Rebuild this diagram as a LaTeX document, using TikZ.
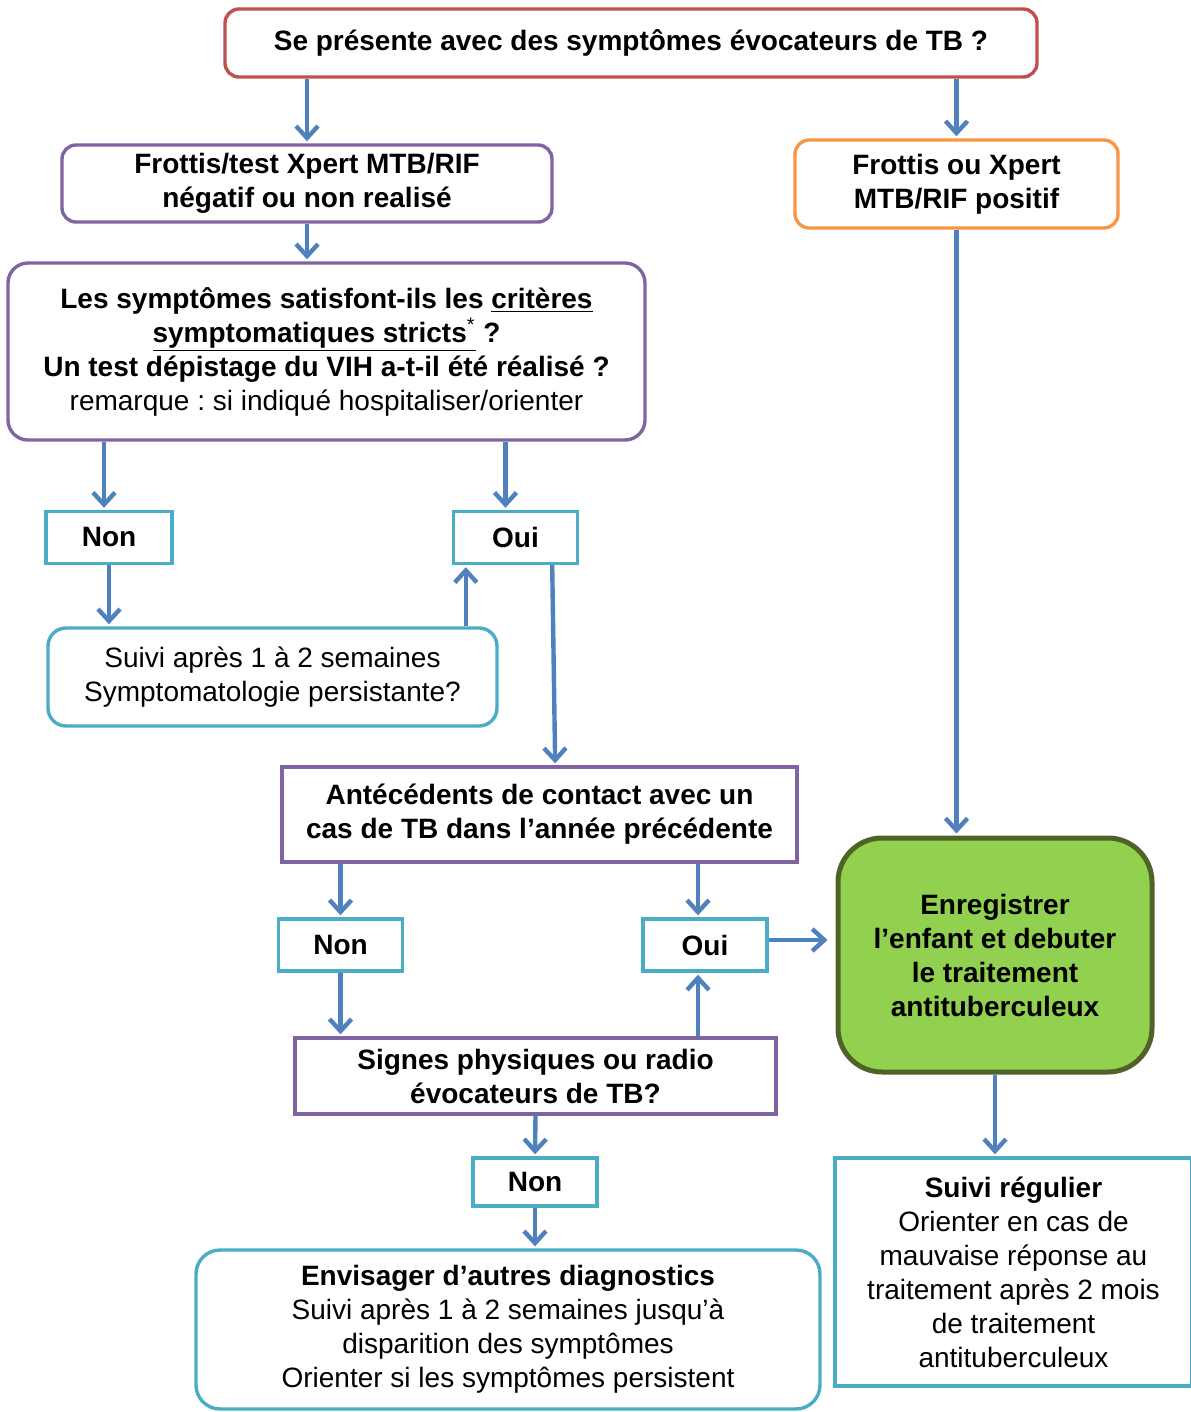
\documentclass[tikz,border=0pt]{standalone}
\usepackage{fontspec}
\setmainfont{Liberation Sans}
\frenchspacing
\usetikzlibrary{positioning,calc,arrows.meta}

\definecolor{rougeTB}{HTML}{C0504D}
\definecolor{violetTB}{HTML}{8064A2}
\definecolor{orangeTB}{HTML}{F79646}
\definecolor{turquoiseTB}{HTML}{4BACC6}
\definecolor{bleuTB}{HTML}{4F81BD}
\definecolor{vertTB}{HTML}{92D050}
\definecolor{vertfonceTB}{HTML}{4F6228}

\begin{document}
\begin{tikzpicture}[x=0.5pt, y=-0.5pt,
	boite/.style={draw, line width=1.7pt, align=center, inner sep=0pt, fill=white,
		font=\fontsize{14}{17}\selectfont},
	arrondi/.style={boite, rounded corners=7pt},
	gras/.style={font=\fontsize{14}{17}\selectfont\bfseries},
	reponse/.style={boite, gras, draw=turquoiseTB, minimum width=62pt, minimum height=26pt},
	fleche/.style={draw=bleuTB, line width=2.2pt, shorten >=1pt,
		-{Straight Barb[length=6pt, width=11pt]}},
	]
	
	% page
	\useasboundingbox (0,0) rectangle (1190,1412);
	
	% boxes
	\node[arrondi, gras, draw=rougeTB, minimum width=406pt, minimum height=34pt]
		(debut) at (631,43) {Se présente avec des symptômes évocateurs de TB ?};
	\node[arrondi, gras, draw=violetTB, minimum width=245pt, minimum height=38.5pt]
		(negatif) at (307,183.5) {Frottis/test Xpert MTB/RIF\\négatif ou non realisé};
	\node[arrondi, gras, draw=orangeTB, minimum width=161.5pt, minimum height=44pt]
		(positif) at (956.5,184) {Frottis ou Xpert\\MTB/RIF positif};
	\node[arrondi, gras, draw=violetTB, rounded corners=10pt, minimum width=318.5pt, minimum height=88.5pt]
		(criteres) at (326.5,351.5) {Les symptômes satisfont-ils les \underline{critères}\\
		\underline{symptomatiques stricts\textsuperscript{\mdseries*}} ?\\
		Un test dépistage du VIH a-t-il été réalisé ?\\
		{\mdseries remarque : si indiqué hospitaliser/orienter}};
	
	\node[reponse, minimum width=63pt] (non1) at (109,537.5) {Non};
	\node[reponse] (oui1) at (515.5,537.5) {Oui};
	\node[arrondi, draw=turquoiseTB, rounded corners=9pt, minimum width=224.5pt, minimum height=49pt]
		(suivi) at (272.5,677) {Suivi après 1 à 2 semaines\\Symptomatologie persistante?};
	
	\node[boite, gras, draw=violetTB, minimum width=257.5pt, minimum height=47.5pt]
		(contact) at (539.5,814.5) {Antécédents de contact avec un\\cas de TB dans l’année précédente};
	\node[reponse] (non2) at (340.5,945) {Non};
	\node[reponse] (oui2) at (705,945) {Oui};
	\node[boite, gras, draw=violetTB, minimum width=240.5pt, minimum height=38pt]
		(signes) at (535.5,1076) {Signes physiques ou radio\\évocateurs de TB?};
	\node[reponse, minimum height=24pt] (non3) at (535,1182) {Non};
	\node[arrondi, draw=turquoiseTB, rounded corners=12pt, minimum width=312pt, minimum height=79.5pt]
		(autres) at (508,1329.5) {\textbf{Envisager d’autres diagnostics}\\
		Suivi après 1 à 2 semaines jusqu’à\\disparition des symptômes\\
		Orienter si les symptômes persistent};
	
	\node[boite, gras, draw=vertfonceTB, fill=vertTB, line width=2.5pt, rounded corners=22pt,
		minimum width=157pt, minimum height=117pt]
		(traitement) at (995,955) {Enregistrer\\l’enfant et debuter\\le traitement\\antituberculeux};
	\node[boite, draw=turquoiseTB, minimum width=178.5pt, minimum height=114pt]
		(regulier) at (1013.5,1272) {\textbf{Suivi régulier}\\Orienter en cas de\\mauvaise réponse au\\
		traitement après 2 mois\\de traitement\\antituberculeux};
	
	% arrows
	\draw[fleche] (debut.south -| negatif) -- (negatif);
	\draw[fleche] (debut.south -| positif) -- (positif);
	\draw[fleche] (negatif.south) -- (negatif.south |- criteres.north);
	\draw[fleche] ([xshift=-2.5pt]non1.north |- criteres.south) -- ([xshift=-2.5pt]non1.north);
	\draw[fleche] ([xshift=-5pt]oui1.north |- criteres.south) -- ([xshift=-5pt]oui1.north);
	\draw[fleche] (non1.south) -- (non1.south |- suivi.north);
	\draw[fleche] ([xshift=7pt]oui1.south west |- suivi.north) -- ([xshift=7pt]oui1.south west);
	\draw[fleche] ([xshift=-13.5pt]oui1.south east) -- ([xshift=-12pt]oui1.south east |- contact.north);
	\draw[fleche] (positif.south) -- (positif.south |- traitement.north);
	\draw[fleche] (non2 |- contact.south) -- (non2);
	\draw[fleche] ([xshift=-3.5pt]oui2.north |- contact.south) -- ([xshift=-3.5pt]oui2.north);
	\draw[fleche] (non2.south) -- (non2.south |- signes.north);
	\draw[fleche] ([xshift=-3.5pt]oui2.south |- signes.north) -- ([xshift=-3.5pt]oui2.south);
	\draw[fleche, shorten >=4pt] ([yshift=2.5pt]oui2.east) -- ([yshift=2.5pt]traitement.west |- oui2);
	\draw[fleche] (signes.south) -- (non3.north);
	\draw[fleche] (non3.south) -- (non3.south |- autres.north);
	\draw[fleche] (traitement.south) -- (traitement.south |- regulier.north);
	
\end{tikzpicture}
\end{document}
